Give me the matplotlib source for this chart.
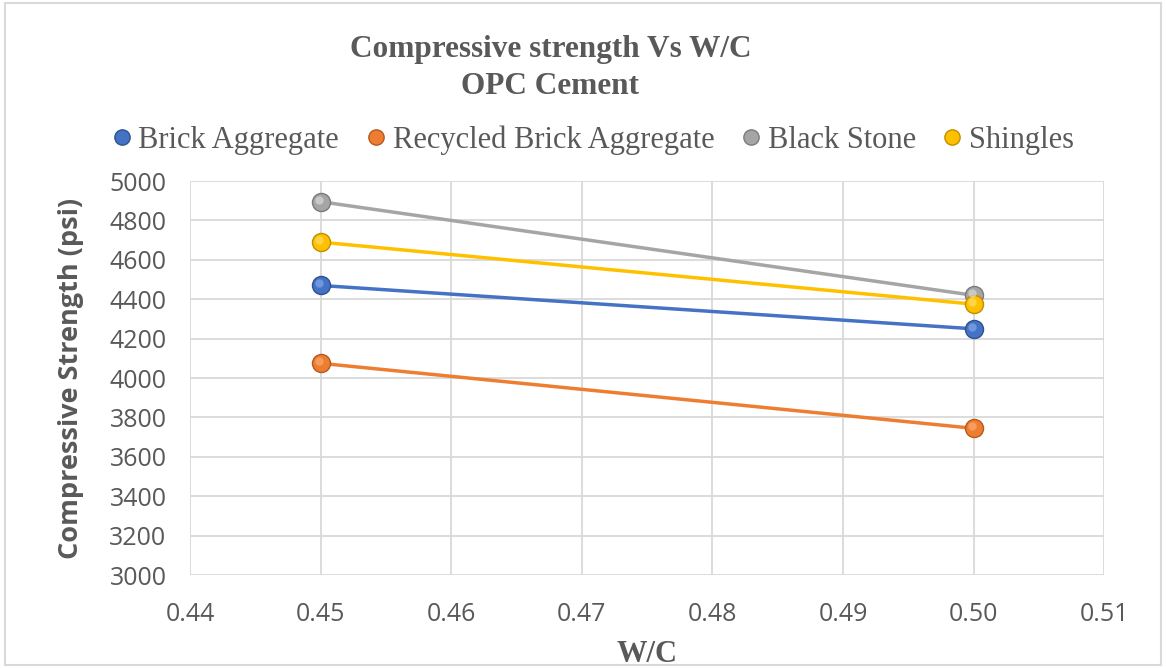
import matplotlib.pyplot as plt
import matplotlib.transforms as mtransforms
from matplotlib.lines import Line2D

# data
wc = [0.45, 0.50]
brick = [4470, 4250]
recycled = [4075, 3745]
black_stone = [4895, 4420]
shingles = [4690, 4375]

names = ['Brick Aggregate', 'Recycled Brick Aggregate', 'Black Stone', 'Shingles']
colors = ['#4472C4', '#ED7D31', '#A5A5A5', '#FFC000']
edges = ['#2F528F', '#B55A1E', '#7B7B7B', '#BF9000']
lights = ['#8FB0F0', '#FFB27A', '#E0E0E0', '#FFE27A']

fig = plt.figure(figsize=(11.66, 6.68), dpi=100)
ax = fig.add_axes([0.163, 0.139, 0.784, 0.590])

series = [brick, recycled, black_stone, shingles]
hl = mtransforms.offset_copy(ax.transData, fig=fig, x=-2, y=2, units='dots')
# gray first so yellow sits on top of it
order = [2, 0, 1, 3]
for i in order:
    ax.plot(wc, series[i], color=colors[i], lw=2.5, zorder=3)
    ax.plot(wc, series[i], 'o', ms=13, color=colors[i], mec=edges[i], mew=1, zorder=4)
    ax.plot(wc, series[i], 'o', ms=6, color=lights[i], alpha=0.6, mew=0, zorder=5,
            transform=hl)

ax.set_xlim(0.44, 0.51)
ax.set_ylim(3000, 5000)
ax.set_xticks([0.44, 0.45, 0.46, 0.47, 0.48, 0.49, 0.50, 0.51])
ax.set_xticklabels(['0.44', '0.45', '0.46', '0.47', '0.48', '0.49', '0.50', '0.51'])
ax.set_yticks(range(3000, 5001, 200))
ax.grid(True, color='#D9D9D9', lw=1.3)
ax.set_axisbelow(True)
for s in ax.spines.values():
    s.set_visible(False)
ax.tick_params(length=0, labelsize=18, labelcolor='#595959')
ax.tick_params(axis='x', pad=19)
ax.tick_params(axis='y', pad=17)
for lab in ax.get_xticklabels() + ax.get_yticklabels():
    lab.set_family('Open Sans')

ax.set_ylabel('Compressive Strength (psi)', fontsize=19.5, fontweight='bold',
              color='#595959', family='Open Sans', labelpad=18)
ax.set_xlabel('W/C', fontsize=22, fontweight='bold', color='#595959',
              family='Liberation Serif', labelpad=10)

fig.text(0.472, 0.926, 'Compressive strength Vs W/C', ha='center', va='center',
         fontsize=22.5, fontweight='bold', color='#595959', family='Liberation Serif')
fig.text(0.472, 0.871, 'OPC Cement', ha='center', va='center',
         fontsize=22.5, fontweight='bold', color='#595959', family='Liberation Serif')

handles = [Line2D([], [], ls='none', marker='o', ms=11, color=colors[i], mec=edges[i])
           for i in range(4)]
fig.legend(handles, names, loc='center', bbox_to_anchor=(0.503, 0.79), ncol=4,
           frameon=False, handletextpad=-0.2, columnspacing=0.45, handlelength=1.5,
           prop={'family': 'Liberation Serif', 'size': 22}, labelcolor='#595959')

# outer border
fig.patches.append(plt.Rectangle((0.004, 0.004), 0.992, 0.992, transform=fig.transFigure,
                                 fill=False, ec='#D9D9D9', lw=1.5))

fig.savefig('out.png', dpi=100)
